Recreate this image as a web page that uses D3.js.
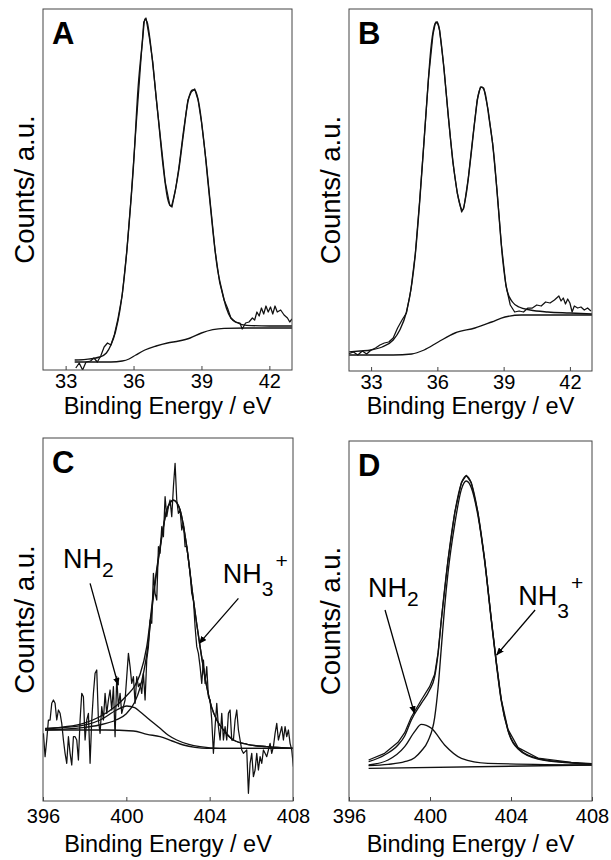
<!DOCTYPE html>
<html>
<head>
<meta charset="utf-8">
<script src="https://cdn.jsdelivr.net/npm/d3@7/dist/d3.min.js"></script>
<style>
  body { margin: 0; background: #fff; }
  text { font-family: Arial, "Liberation Sans", Helvetica, sans-serif; fill: #000; }
</style>
</head>
<body>
<svg id="fig" width="611" height="860"></svg>
<script>
// ---- data: [binding energy eV, counts a.u.] ----
const aRaw = [[33.45,6],[33.6,21],[33.75,0],[33.9,24],[34.1,27],[34.25,36],[34.4,24],[34.55,42],[34.7,69],[34.85,81],[35.0,75],[35.15,105],[35.3,150],[35.5,225],[35.7,354],[35.9,525],[36.1,720],[36.3,906],[36.45,1044],[36.55,1056],[36.7,996],[36.85,924],[37.0,816],[37.2,690],[37.4,564],[37.6,495],[37.7,489],[37.85,540],[38.0,606],[38.2,714],[38.4,810],[38.55,834],[38.7,843],[38.85,810],[39.0,744],[39.2,630],[39.4,495],[39.6,360],[39.8,264],[40.0,210],[40.15,186],[40.3,156],[40.5,144],[40.7,141],[40.8,123],[40.95,141],[41.1,144],[41.25,156],[41.35,150],[41.45,174],[41.55,162],[41.65,186],[41.75,168],[41.85,192],[41.95,174],[42.05,189],[42.15,168],[42.25,192],[42.35,174],[42.5,180],[42.65,165],[42.8,156],[42.9,144],[43.0,153]];
const aFit = [[33.4,30],[33.9,32],[34.5,39],[34.8,51],[35.0,75],[35.2,114],[35.4,180],[35.6,285],[35.8,435],[36.0,615],[36.2,846],[36.4,990],[36.5,1053],[36.6,1044],[36.7,1005],[36.9,885],[37.1,750],[37.3,615],[37.5,516],[37.65,492],[37.8,525],[38.0,600],[38.2,705],[38.4,804],[38.6,840],[38.7,840],[38.9,795],[39.1,690],[39.3,555],[39.5,420],[39.7,306],[39.9,240],[40.1,186],[40.3,156],[40.6,141],[41.0,134],[42.0,132],[43.0,132]];
const aBackground = [[33.4,24],[35.0,24],[35.5,27],[35.8,33],[36.1,45],[36.5,60],[37.0,72],[37.5,81],[38.0,87],[38.5,96],[39.0,111],[39.5,121],[40.0,125],[41.0,126],[43.0,126]];

const bRaw = [[31.95,51],[32.2,57],[32.4,48],[32.6,60],[32.8,51],[33.0,63],[33.2,69],[33.4,78],[33.6,84],[33.8,87],[34.0,99],[34.2,129],[34.4,153],[34.6,174],[34.8,243],[35.0,351],[35.2,513],[35.4,693],[35.6,879],[35.8,1008],[35.9,1041],[36.0,1047],[36.1,1023],[36.3,909],[36.5,759],[36.7,627],[36.9,534],[37.1,477],[37.2,489],[37.4,579],[37.6,699],[37.8,813],[37.95,852],[38.1,849],[38.3,783],[38.5,684],[38.7,543],[38.9,378],[39.1,258],[39.3,198],[39.5,177],[39.7,180],[39.9,177],[40.1,189],[40.3,189],[40.5,198],[40.7,195],[40.9,207],[41.1,204],[41.3,213],[41.5,225],[41.6,210],[41.7,219],[41.8,201],[41.9,216],[42.0,204],[42.1,177],[42.2,195],[42.35,189],[42.5,192],[42.65,183],[42.8,189],[42.95,180]];
const bFit = [[31.95,57],[32.5,60],[33.0,63],[33.5,72],[34.0,93],[34.3,123],[34.6,177],[34.85,264],[35.0,348],[35.2,507],[35.4,693],[35.55,834],[35.7,963],[35.85,1032],[35.95,1047],[36.05,1038],[36.2,969],[36.4,834],[36.6,693],[36.8,579],[37.0,504],[37.13,483],[37.3,528],[37.5,633],[37.7,753],[37.85,828],[38.0,852],[38.15,837],[38.35,753],[38.55,654],[38.75,498],[38.95,339],[39.15,243],[39.4,207],[39.7,192],[40.2,183],[41.0,177],[42.0,174],[43.0,171]];
const bBackground = [[31.95,48],[34.0,48],[34.84,51],[35.4,63],[36.04,87],[36.8,114],[37.7,129],[38.46,147],[39.06,162],[39.81,168],[43.0,168]];

// panel C raw spectrum: counts on a 0.08 eV step from 396.02 eV
const cRawStart = 396.02;
const cRawStep = 0.08;
const cRawCounts = [203,133,183,243,243,293,303,293,243,273,263,233,183,143,113,193,143,108,193,193,183,123,243,323,313,183,243,263,113,243,323,383,393,243,203,283,243,323,263,303,333,273,343,193,373,283,323,263,283,303,373,443,403,353,373,293,373,343,353,323,383,303,423,463,543,533,683,623,603,763,743,823,793,913,853,883,903,853,943,1013,903,863,873,813,833,763,763,723,683,623,603,523,463,443,403,353,423,353,403,313,303,243,143,223,293,223,183,263,183,223,183,263,273,183,183,243,273,213,183,153,143,148,153,23,113,143,73,93,143,93,133,113,153,143,133,153,173,143,163,203,233,183,203,223,183,223,193,213,173,153,103];
const cFit = [[396.1,216],[397.0,222],[397.9,232],[398.7,252],[399.5,285],[400.0,315],[400.4,345],[400.66,380],[400.98,463],[401.3,623],[401.62,763],[401.94,873],[402.1,895],[402.26,903],[402.42,895],[402.58,873],[402.9,763],[403.22,603],[403.54,463],[403.86,343],[404.1,280],[404.34,243],[404.7,210],[405.14,183],[405.8,170],[406.74,163],[408.0,158]];
const cNH3 = [[396.1,213],[397.9,220],[398.7,228],[399.5,243],[400.0,262],[400.4,296],[400.66,340],[400.98,440],[401.3,612],[401.62,758],[401.94,871],[402.1,894],[402.26,902],[402.42,895],[402.58,873],[402.9,763],[403.22,603],[403.54,463],[403.86,343],[404.1,280],[404.34,243],[404.7,210],[405.14,183],[405.8,170],[406.74,163],[408.0,158]];
const cNH2 = [[396.1,218],[397.5,223],[398.74,243],[399.54,273],[400.02,285],[400.4,280],[400.66,268],[401.0,250],[401.62,218],[402.0,198],[402.42,183],[403.0,170],[403.54,163],[404.5,158],[408.0,158]];
const cBackground = [[396.1,213],[399.0,213],[400.34,210],[401.0,200],[401.62,193],[402.2,180],[402.74,168],[403.3,161],[403.86,158],[408.0,158]];

const dRaw = [[396.97,123],[397.76,143],[398.42,176],[398.75,205],[399.08,252],[399.57,303],[399.98,343],[400.23,380],[400.4,445],[400.56,545],[400.89,723],[401.22,865],[401.55,955],[401.79,977],[402.04,955],[402.37,865],[402.7,725],[403.03,545],[403.28,415],[403.52,305],[403.85,215],[404.35,160],[405.33,129],[406.98,116],[408.0,112]];
const dFit = [[396.97,118],[397.76,138],[398.42,168],[398.75,195],[399.08,243],[399.57,293],[399.98,333],[400.23,373],[400.4,443],[400.56,543],[400.89,723],[401.22,863],[401.55,953],[401.79,975],[402.04,953],[402.37,863],[402.7,723],[403.03,543],[403.28,413],[403.52,303],[403.85,213],[404.35,158],[405.33,128],[406.98,115],[408.0,111]];
const dNH3 = [[396.97,106],[397.93,110],[398.75,118],[399.24,130],[399.57,150],[399.9,180],[400.23,250],[400.4,340],[400.56,460],[400.72,580],[400.89,685],[401.22,830],[401.55,935],[401.79,960],[402.04,940],[402.37,855],[402.7,718],[403.03,540],[403.28,410],[403.52,300],[403.85,211],[404.35,156],[405.33,126],[406.98,114],[408.0,110]];
const dNH2 = [[396.97,108],[397.93,123],[398.75,163],[399.24,208],[399.57,230],[400.07,218],[400.72,168],[401.55,128],[402.86,113],[408.0,108]];
const dBackground = [[396.97,98],[408.0,108]];

const ticksA = [33, 36, 39, 42];
const ticksC = [396, 400, 404, 408];

// arrow annotations in data units: [fromE, fromCounts, toE, toCounts]
const cArrows = [[398.26, 653, 399.61, 348], [405.38, 608, 403.5, 473]];
const dArrows = [[397.78, 573, 399.23, 263], [405.19, 573, 403.29, 438]];
// label anchors [eV, counts]
const cLabels = { nh2: [396.96, 699], nh3: [404.63, 654] };
const dLabels = { nh2: [396.94, 612], nh3: [404.36, 588] };

const cRaw = cRawCounts.map((c, i) => [cRawStart + i * cRawStep, c]);

const panels = [
  { id: 'A', box: [43, 9, 292, 370], xd: [32, 43], yd: [0, 1083], ticks: ticksA, pad: 4, titleDy: 44,
    fits: [aFit, aBackground], raw: [aRaw] },
  { id: 'B', box: [349, 9, 592, 371], xd: [32, 43], yd: [0, 1086], ticks: ticksA, pad: 4, titleDy: 43,
    fits: [bFit, bBackground], raw: [bRaw] },
  { id: 'C', box: [43, 438, 293, 801], xd: [396, 408], yd: [0, 1089], ticks: ticksC, pad: 8, titleDy: 51,
    fits: [cFit, cNH3, cNH2, cBackground], raw: [cRaw], arrows: cArrows, labels: cLabels },
  { id: 'D', box: [349, 441, 592, 801], xd: [396, 408], yd: [0, 1080], ticks: ticksC, pad: 8, titleDy: 51,
    fits: [dFit, dNH3, dNH2, dBackground], raw: [dRaw], arrows: dArrows, labels: dLabels }
];

const svg = d3.select('#fig');
const defs = svg.append('defs');
defs.append('marker')
    .attr('id', 'arrow')
    .attr('viewBox', '0 0 10 8')
    .attr('refX', 9).attr('refY', 4)
    .attr('markerWidth', 8).attr('markerHeight', 6.4)
    .attr('markerUnits', 'userSpaceOnUse')
    .attr('orient', 'auto')
  .append('path')
    .attr('d', 'M0,0 L10,4 L0,8 Z')
    .attr('fill', '#000');

panels.forEach(p => {
  const [x0, y0, x1, y1] = p.box;
  const x = d3.scaleLinear().domain(p.xd).range([x0, x1]);
  const y = d3.scaleLinear().domain(p.yd).range([y1, y0]);

  defs.append('clipPath').attr('id', 'clip' + p.id)
    .append('rect').attr('x', x0).attr('y', y0).attr('width', x1 - x0).attr('height', y1 - y0);

  const g = svg.append('g');
  const plot = g.append('g').attr('clip-path', `url(#clip${p.id})`);

  const fitLine = d3.line().x(d => x(d[0])).y(d => y(d[1])).curve(d3.curveMonotoneX);
  const rawLine = d3.line().x(d => x(d[0])).y(d => y(d[1]));

  plot.selectAll('path.raw').data(p.raw).enter().append('path')
      .attr('class', 'raw')
      .attr('d', rawLine)
      .attr('fill', 'none').attr('stroke', '#111').attr('stroke-width', 1.25)
      .attr('stroke-linejoin', 'round');

  plot.selectAll('path.fit').data(p.fits).enter().append('path')
      .attr('class', 'fit')
      .attr('d', fitLine)
      .attr('fill', 'none').attr('stroke', '#111').attr('stroke-width', 1.35);

  // frame
  g.append('rect')
      .attr('x', x0).attr('y', y0).attr('width', x1 - x0).attr('height', y1 - y0)
      .attr('fill', 'none').attr('stroke', '#444').attr('stroke-width', 1);

  const axis = d3.axisBottom(x).tickValues(p.ticks).tickSize(-4).tickPadding(p.pad)
      .tickFormat(d3.format('d'));
  const ax = g.append('g').attr('transform', `translate(0,${y1})`).call(axis);
  ax.select('.domain').remove();
  ax.selectAll('.tick line').attr('stroke', '#444');
  ax.selectAll('.tick text').attr('font-size', 20).attr('font-family', null).attr('fill', '#000');

  g.append('text')
      .attr('x', (x0 + x1) / 2).attr('y', y1 + p.titleDy)
      .attr('text-anchor', 'middle').attr('font-size', 23.5)
      .text('Binding Energy / eV');

  g.append('text')
      .attr('transform', `translate(${x0 - 9},${(y0 + y1) / 2}) rotate(-90)`)
      .attr('text-anchor', 'middle').attr('font-size', 27.5)
      .text('Counts/ a.u.');

  g.append('text')
      .attr('x', x0 + 9).attr('y', y0 + 35)
      .attr('font-size', 31).attr('font-weight', 'bold')
      .text(p.id);

  if (p.arrows) {
    g.selectAll('line.arrow').data(p.arrows).enter().append('line')
        .attr('class', 'arrow')
        .attr('x1', d => x(d[0])).attr('y1', d => y(d[1]))
        .attr('x2', d => x(d[2])).attr('y2', d => y(d[3]))
        .attr('stroke', '#000').attr('stroke-width', 1.3)
        .attr('marker-end', 'url(#arrow)');

    const t2 = g.append('text')
        .attr('x', x(p.labels.nh2[0])).attr('y', y(p.labels.nh2[1]))
        .attr('font-size', 27);
    t2.append('tspan').text('NH');
    t2.append('tspan').attr('font-size', 21).attr('dy', 9).text('2');

    const t3 = g.append('text')
        .attr('x', x(p.labels.nh3[0])).attr('y', y(p.labels.nh3[1]))
        .attr('font-size', 27);
    t3.append('tspan').text('NH');
    t3.append('tspan').attr('font-size', 21).attr('dy', 13).text('3');
    t3.append('tspan').attr('font-size', 21).attr('dx', 2).attr('dy', -28).text('+');
  }
});
</script>
</body>
</html>
